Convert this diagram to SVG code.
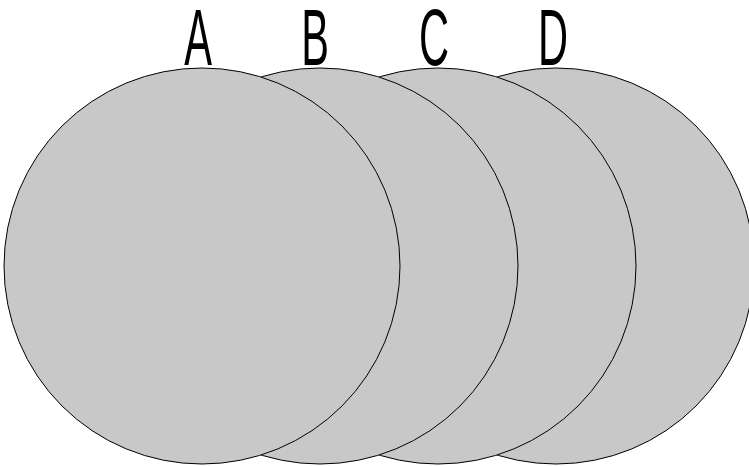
<svg xmlns="http://www.w3.org/2000/svg" width="749" height="466" viewBox="0 0 749 466">
<style>
.c{fill:#c8c8c8;stroke:#000;stroke-width:1}
.t{font-family:"Liberation Sans",Arial,sans-serif;font-size:80px;fill:#000;text-anchor:middle}
</style>
<rect width="749" height="466" fill="#fff"/>
<g id="D"><circle class="c" cx="556" cy="266" r="198"/><text class="t" transform="translate(553,65) scale(0.52,1)">D</text></g>
<g id="C"><circle class="c" cx="438" cy="266" r="198"/><text class="t" transform="translate(434,65) scale(0.52,1)">C</text></g>
<g id="B"><circle class="c" cx="320" cy="266" r="198"/><text class="t" transform="translate(315,65) scale(0.52,1)">B</text></g>
<g id="A"><circle class="c" cx="202" cy="266" r="198"/><text class="t" transform="translate(198,65) scale(0.52,1)">A</text></g>
<g id="connectors"/>
</svg>
